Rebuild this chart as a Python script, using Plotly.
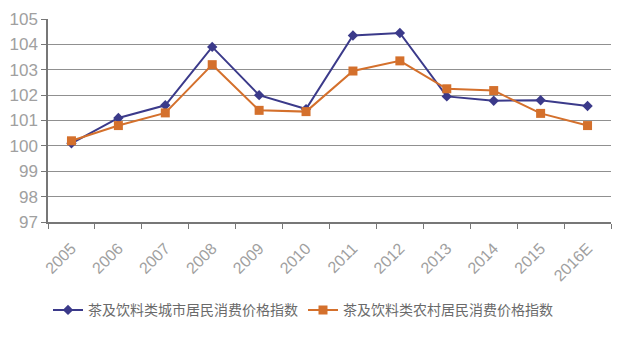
import plotly.graph_objects as go

years = ["2005", "2006", "2007", "2008", "2009", "2010", "2011", "2012", "2013", "2014", "2015", "2016E"]
urban = [100.1, 101.1, 101.6, 103.9, 102.0, 101.45, 104.35, 104.45, 101.95, 101.78, 101.8, 101.57]
rural = [100.2, 100.8, 101.3, 103.2, 101.4, 101.35, 102.95, 103.35, 102.25, 102.18, 101.28, 100.8]
name_urban = "茶及饮料类城市居民消费价格指数"
name_rural = "茶及饮料类农村居民消费价格指数"

fig = go.Figure()
fig.add_trace(go.Scatter(x=years, y=urban, name=name_urban, mode="lines+markers",
                         line=dict(color="#3b3a8a", width=2),
                         marker=dict(symbol="diamond", size=8, color="#3b3a8a")))
fig.add_trace(go.Scatter(x=years, y=rural, name=name_rural, mode="lines+markers",
                         line=dict(color="#d4702c", width=2),
                         marker=dict(symbol="square", size=9, color="#d4702c")))

fig.update_layout(
    width=625, height=354,
    margin=dict(l=48, r=14, t=19, b=132),
    paper_bgcolor="white", plot_bgcolor="white",
    font=dict(family="Noto Sans CJK SC, Liberation Sans, sans-serif", color="#8a8a8a"),
    showlegend=True,
    legend=dict(orientation="h", x=0.0, y=-0.435, xanchor="left", yanchor="middle",
                font=dict(size=14, color="#6a6a6a"), itemwidth=30, tracegroupgap=0),
    xaxis=dict(type="category", showgrid=False, showline=True, linecolor="#777", linewidth=1.5,
               ticks="outside", ticklen=5, tickcolor="#777", tickson="boundaries",
               tickangle=-45, tickfont=dict(size=16, color="#a0a0a0", family="Liberation Sans"),
               ticklabelstandoff=9, automargin=False,
               range=[-0.5, 11.5]),
    yaxis=dict(range=[97, 105], dtick=1, showgrid=True, gridcolor="#909090", gridwidth=1.4,
               showline=True, linecolor="#777", linewidth=1.5, ticks="outside", ticklen=5,
               tickcolor="#777", zeroline=False, automargin=False,
               tickfont=dict(size=17, color="#a0a0a0", family="Liberation Sans")),
)

fig.write_html("out.html")
